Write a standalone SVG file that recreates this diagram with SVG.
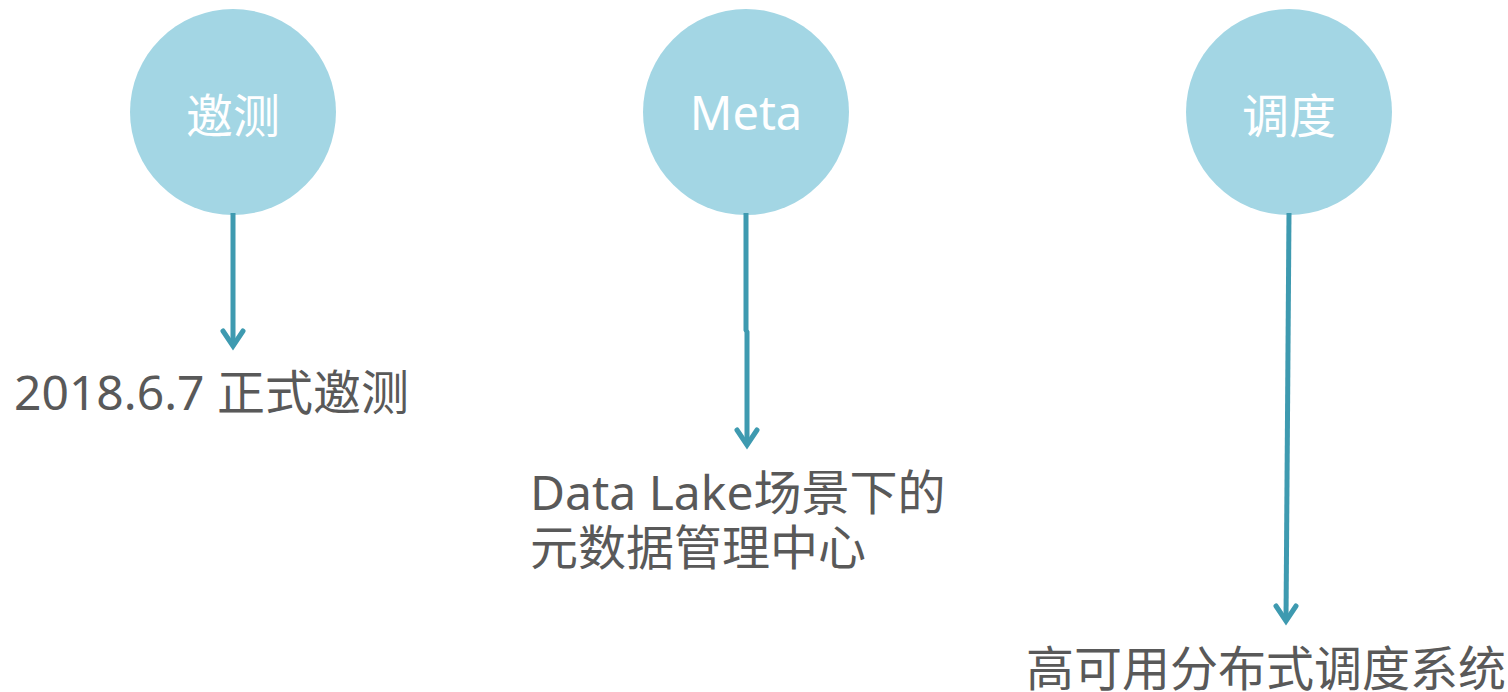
<svg xmlns="http://www.w3.org/2000/svg" width="1508" height="692" viewBox="0 0 1508 692">
<style>
.c{fill:#a3d6e4}
.ct{fill:#ffffff;font-family:"Noto Sans","Noto Sans CJK SC",sans-serif;font-size:47px;text-anchor:middle}
.t{fill:#595959;font-family:"Noto Sans","Noto Sans CJK SC",sans-serif;font-size:48px}
.l{stroke:#3e9ab0;stroke-width:5;fill:none}
.h{stroke:#3e9ab0;stroke-width:5;fill:none;stroke-linecap:round;stroke-linejoin:miter}
</style>
<rect width="1508" height="692" fill="#ffffff"/>
<g id="node-yaoce">
<circle class="c" cx="233" cy="112" r="103"/>
<text class="ct" x="233" y="133">邀测</text>
</g>
<g id="node-meta">
<circle class="c" cx="746" cy="112" r="103"/>
<text class="ct" x="746" y="130">Meta</text>
</g>
<g id="node-diaodu">
<circle class="c" cx="1289" cy="112" r="103"/>
<text class="ct" x="1289" y="133">调度</text>
</g>
<g id="connectors">
<path class="l" d="M233 213 V346"/>
<path class="h" d="M223 331 L233 346 L243 331"/>
<path class="l" d="M746 213 V330 L747 332 V444"/>
<path class="h" d="M737 430 L747 445 L757 430"/>
<path class="l" d="M1289 213 L1286 620"/>
<path class="h" d="M1276 606 L1286 621 L1296 606"/>
</g>
<g id="label-yaoce">
<text class="t" x="14" y="410">2018.6.7 正式邀测</text>
</g>
<g id="label-meta">
<text class="t" x="530" y="510">Data Lake场景下的</text>
<text class="t" x="530" y="565">元数据管理中心</text>
</g>
<g id="label-diaodu">
<text class="t" x="1026" y="686">高可用分布式调度系统</text>
</g>
</svg>
